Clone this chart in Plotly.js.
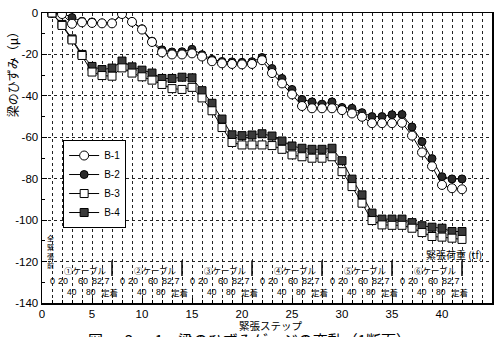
<!DOCTYPE html>
<html><head><meta charset="utf-8">
<script src="https://cdn.plot.ly/plotly-3.0.1.min.js"></script>
<style>html,body{margin:0;padding:0;background:#fff}#chart{width:496px;height:337px}</style>
</head><body><div id="chart"></div>
<script>
// ---- data ----
const steps = [1,2,3,4,5,6,7,8,9,10,11,12,13,14,15,16,17,18,19,20,21,22,23,24,25,26,27,28,29,30,31,32,33,34,35,36,37,38,39,40,41,42];
const b1 = [0,-0.5,-5.2,-4.5,-4.8,-5,-5,-0.5,-4.3,-8,-14,-19,-20,-20,-19.5,-21,-23.3,-24.3,-24.6,-24.8,-24.6,-22.8,-29,-34,-39.3,-44.9,-46,-46,-46,-46.9,-48.5,-50.1,-53.2,-53.2,-53.2,-53,-59.2,-67.3,-74,-83,-84.6,-85.1];
const b2 = [0,0,-2.2,-4,-4.3,-4.8,-4.8,-0.4,-4.2,-7.6,-13.6,-17.8,-18.8,-18.7,-17.5,-20.1,-22.4,-23.4,-23.6,-23.8,-23.5,-21.5,-26.8,-31.6,-36.9,-41.7,-42.9,-44,-42.9,-45.6,-46,-48.1,-50,-50,-49.1,-49,-55,-62.1,-70.3,-79,-80.1,-80.1];
const b3 = [0,-6,-13,-20.5,-28.5,-30.2,-30.5,-26.5,-29,-30.8,-32.4,-34.5,-36.5,-36.9,-35.9,-41,-47.2,-55.3,-62.5,-63.7,-63.7,-63.7,-64,-65.8,-68.5,-69.4,-70.1,-70.1,-69.4,-76.6,-83.8,-91.8,-100.2,-102.3,-102.5,-102.5,-103.9,-106,-107.9,-108.2,-108.7,-109.3];
const b4 = [0,-5.5,-12.5,-20,-25.8,-27.3,-26.6,-23.2,-26,-27.6,-29,-31.6,-31.6,-31,-31.3,-37.5,-43.6,-51.2,-58.8,-59.2,-58.9,-58.3,-59.4,-61.8,-64.2,-65.3,-65.8,-65.8,-65.3,-71.3,-80.2,-87.8,-96.6,-99.5,-99.5,-99.5,-101.2,-102.7,-103.4,-103.9,-105.5,-105.5];
const seriesNames = ['B-1','B-2','B-3','B-4'];
const cableLabels = ['①ケーブル','②ケーブル','③ケーブル','④ケーブル','⑤ケーブル','⑥ケーブル'];
const cableStart = [1,8,15,22,29,36];
const loadTop = ['0','20','60','82.7'];
const loadBottom = ['40','80','定着'];
const xTicks = [0,5,10,15,20,25,30,35,40,45];
const yTicks = [0,-20,-40,-60,-80,-100,-120,-140];

// ---- layout helpers ----
const topOff = [0,1.1,3.1,4.9];
const botOff = [2,3.9,5.7];
const JP = '"Noto Sans CJK JP", sans-serif';
const LAT = '"Liberation Sans", Arial, sans-serif';

const traces = [
  {name: seriesNames[1], x: steps, y: b2, legendrank: 2, mode:'lines+markers',
   line:{color:'#000',width:1}, marker:{symbol:'circle',size:8,color:'#2a2a2a',line:{color:'#000',width:1}}},
  {name: seriesNames[3], x: steps, y: b4, legendrank: 4, mode:'lines+markers',
   line:{color:'#000',width:1}, marker:{symbol:'square',size:8,color:'#3a3a3a',line:{color:'#000',width:1}}},
  {name: seriesNames[0], x: steps, y: b1, legendrank: 1, mode:'lines+markers',
   line:{color:'#000',width:1}, marker:{symbol:'circle',size:9,color:'#fff',line:{color:'#000',width:1}}},
  {name: seriesNames[2], x: steps, y: b3, legendrank: 3, mode:'lines+markers',
   line:{color:'#000',width:1}, marker:{symbol:'square',size:8,color:'#fff',line:{color:'#000',width:1}}}
];

function note(o){ return Object.assign({showarrow:false, xanchor:'center', yanchor:'middle'}, o); }
const ann = [];
const shapes = [];
cableStart.forEach((s,i)=>{
  ann.push(note({x:s+3.3, y:-124.3, xref:'x', yref:'y', text:cableLabels[i], font:{family:JP,size:8.5,color:'#000'}}));
  loadTop.forEach((t,j)=>ann.push(note({x:s+topOff[j], y:-129.4, xref:'x', yref:'y', text:t, font:{family:LAT,size:9,color:'#000'}})));
  loadBottom.forEach((t,j)=>ann.push(note({x:s+botOff[j], y:-134.6, xref:'x', yref:'y', text:t, font:{family:(j==2?JP:LAT),size:8.5,color:'#000'}})));
  shapes.push({type:'line', xref:'x', yref:'y', x0:s+6, x1:s+6, y0:-119.5, y1:-127, line:{color:'#000',width:1.5}});
});
ann.push(note({x:0.8, y:-115, xref:'x', yref:'y', text:'全<br>緊<br>張<br>前', font:{family:JP,size:7,color:'#000'}}));
ann.push(note({x:44.2, y:-116.8, xref:'x', yref:'y', xanchor:'right', text:'緊張荷重 (tf)', font:{family:JP,size:10,color:'#000'}}));
ann.push(note({x:-0.064, y:0.80, xref:'paper', yref:'paper', text:'梁のひずみ（μ）', textangle:-90, font:{family:JP,size:12,color:'#000'}}));
ann.push(note({x:0.508, y:-0.077, xref:'paper', yref:'paper', text:'緊張ステップ', font:{family:JP,size:10.5,color:'#000'}}));
ann.push(note({x:0.46, y:-0.084, xref:'paper', yref:'paper', yanchor:'top', text:'図 － 3 － 1　梁のひずみゲージの変動（1断面）', font:{family:JP,size:15,color:'#000'}}));

const layout = {
  width:496, height:337,
  margin:{l:42, r:4, t:13, b:34, pad:0},
  paper_bgcolor:'#fff', plot_bgcolor:'#fff',
  showlegend:true,
  legend:{x:0.047, y:0.562, xanchor:'left', yanchor:'top', bgcolor:'#fff', bordercolor:'#000', borderwidth:1,
          font:{family:LAT,size:10,color:'#000'}, itemwidth:30, traceorder:'normal', tracegroupgap:0},
  xaxis:{range:[0,45], tickvals:xTicks, ticktext:xTicks.map(String), showline:true, mirror:true, linecolor:'#000', linewidth:1.5,
         ticks:'inside', ticklen:5, tickcolor:'#000', showgrid:false, zeroline:false,
         tickfont:{family:LAT,size:11.5,color:'#000'},
         minor:{dtick:1, tick0:0, ticks:'inside', ticklen:3, tickcolor:'#000', showgrid:true, gridcolor:'#222', griddash:'dot', gridwidth:1}},
  yaxis:{range:[-140,0], tickvals:yTicks, ticktext:yTicks.map(String), showline:true, mirror:true, linecolor:'#000', linewidth:1.5,
         ticks:'inside', ticklen:5, tickcolor:'#000', showgrid:true, gridcolor:'#222', griddash:'dot', gridwidth:1, zeroline:false,
         tickfont:{family:LAT,size:11.5,color:'#000'},
         minor:{dtick:10, ticks:'inside', ticklen:3, tickcolor:'#000', showgrid:false}},
  annotations:ann, shapes:shapes
};
Plotly.newPlot('chart', traces, layout, {staticPlot:true, displayModeBar:false});
</script></body></html>
